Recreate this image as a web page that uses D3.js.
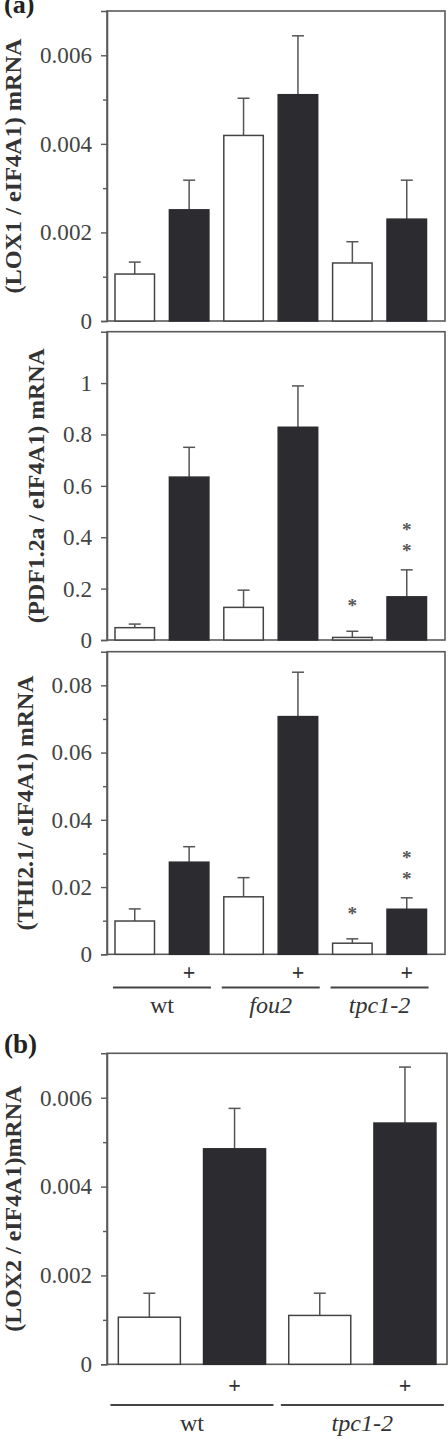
<!DOCTYPE html>
<html><head><meta charset="utf-8">
<script src="https://cdn.jsdelivr.net/npm/d3@7"></script>
<style>body{margin:0;background:#fff}svg{display:block}</style>
</head><body>
<svg id="chart" width="448" height="1439"></svg>
<script>
// ---------- data ----------
const barsA = ["wt-", "wt+", "fou2-", "fou2+", "tpc1-2-", "tpc1-2+"];
const treatedA = [false, true, false, true, false, true];
const groupsA = ["wt", "fou2", "tpc1-2"];
const groupItalicA = [false, true, true];

const lox1Mean = [0.00106, 0.00251, 0.00419, 0.00511, 0.00131, 0.00230];
const lox1Err  = [0.00027, 0.00067, 0.00084, 0.00133, 0.00048, 0.00088];
const lox1Stars = [0, 0, 0, 0, 0, 0];
const lox1Ticks = [0, 0.002, 0.004, 0.006];
const lox1Minor = [0.001, 0.003, 0.005];

const pdfMean = [0.048, 0.634, 0.127, 0.828, 0.010, 0.168];
const pdfErr  = [0.014, 0.116, 0.067, 0.161, 0.024, 0.105];
const pdfStars = [0, 0, 0, 0, 1, 2];
const pdfTicks = [0, 0.2, 0.4, 0.6, 0.8, 1];
const pdfMinor = [];

const thiMean = [0.0099, 0.0274, 0.0171, 0.0707, 0.0033, 0.0134];
const thiErr  = [0.0036, 0.0046, 0.0057, 0.0132, 0.0013, 0.0034];
const thiStars = [0, 0, 0, 0, 1, 2];
const thiTicks = [0, 0.02, 0.04, 0.06, 0.08];
const thiMinor = [0.01, 0.03, 0.05, 0.07];

const barsB = ["wt-", "wt+", "tpc1-2-", "tpc1-2+"];
const treatedB = [false, true, false, true];
const groupsB = ["wt", "tpc1-2"];
const groupItalicB = [false, true];
const lox2Mean = [0.00106, 0.00485, 0.00110, 0.00543];
const lox2Err  = [0.00054, 0.00091, 0.00050, 0.00126];
const lox2Stars = [0, 0, 0, 0];
const lox2Ticks = [0, 0.002, 0.004, 0.006];
const lox2Minor = [0.001, 0.003, 0.005];

// ---------- drawing ----------
const svg = d3.select("#chart");
const SERIF = "'Liberation Serif','Times New Roman',Times,serif";
const FRAME = "#5a5a5a";
const DARK = "#2b2b30";
const fmt = d => d === 0 ? "0" : d3.format("~g")(d);

// font calibration: "0.006" should be ~52px wide at the tick size
const probe = svg.append("text").attr("font-family", SERIF).attr("font-size", 23).text("0.006");
const plen = probe.node().getComputedTextLength();
probe.remove();
const K = (plen > 10) ? Math.max(0.8, Math.min(1.35, 52 / plen)) : 1;
const fs = v => v * K;

const xA = d3.scaleBand().domain(barsA).range([107, 434.5]).paddingInner(0.274).paddingOuter(0.147);
const xB = d3.scaleBand().domain(barsB).range([107, 447.3]).paddingInner(0.272).paddingOuter(0.133);

function panel(cfg) {
  const {x, bars, treated, mean, err, stars, ticks, minor, max, top, bottom, right, title, titleX, titleLen} = cfg;
  const y = d3.scaleLinear().domain([0, max]).range([bottom, top]);
  const g = svg.append("g");

  // frame
  g.append("rect").attr("x", 107).attr("y", top).attr("width", right - 107).attr("height", bottom - top)
    .attr("fill", "none").attr("stroke", FRAME).attr("stroke-width", 1.6);

  // axis
  const ax = g.append("g").attr("transform", "translate(107,0)")
    .call(d3.axisLeft(y).tickValues(ticks).tickSize(6).tickPadding(9).tickFormat(fmt));
  ax.attr("font-family", SERIF).attr("font-size", fs(23));
  ax.select(".domain").attr("stroke", FRAME).attr("stroke-width", 1.6);
  ax.selectAll(".tick line").attr("stroke", FRAME).attr("stroke-width", 1.4);
  ax.selectAll(".tick text").attr("font-family", SERIF).attr("font-size", fs(23)).attr("fill", "#444");
  if (minor.length) {
    const mx = g.append("g").attr("transform", "translate(107,0)")
      .call(d3.axisLeft(y).tickValues(minor).tickSize(4).tickFormat(""));
    mx.select(".domain").remove();
    mx.selectAll(".tick line").attr("stroke", FRAME).attr("stroke-width", 1.4);
  }

  // error bars
  const cap = 6;
  bars.forEach((b, i) => {
    const cx = x(b) + x.bandwidth() / 2;
    const yt = y(mean[i] + err[i]);
    g.append("line").attr("x1", cx).attr("x2", cx).attr("y1", y(mean[i])).attr("y2", yt)
      .attr("stroke", "#555").attr("stroke-width", 1.5);
    g.append("line").attr("x1", cx - cap).attr("x2", cx + cap).attr("y1", yt).attr("y2", yt)
      .attr("stroke", "#555").attr("stroke-width", 1.5);
  });

  // bars
  g.selectAll("rect.bar").data(bars).join("rect").attr("class", "bar")
    .attr("x", d => x(d)).attr("width", x.bandwidth())
    .attr("y", (d, i) => y(mean[i])).attr("height", (d, i) => bottom - y(mean[i]))
    .attr("fill", (d, i) => treated[i] ? DARK : "#fff")
    .attr("stroke", (d, i) => treated[i] ? DARK : "#444").attr("stroke-width", 1.5);

  // asterisks
  bars.forEach((b, i) => {
    if (!stars[i]) return;
    const cx = x(b) + x.bandwidth() / 2;
    const yt = y(mean[i] + err[i]);
    const lowest = yt - (stars[i] === 1 ? 29 : 23);
    for (let k = 0; k < stars[i]; k++) {
      g.append("text").attr("x", cx).attr("y", lowest - k * 21 + 10).attr("text-anchor", "middle")
        .attr("font-family", SERIF).attr("font-size", fs(19)).attr("font-weight", "bold")
        .attr("fill", "#555").text("*");
    }
  });

  // y title
  g.append("text")
    .attr("transform", `translate(${titleX},${(top + bottom) / 2}) rotate(-90)`)
    .attr("text-anchor", "middle").attr("dominant-baseline", "central")
    .attr("font-family", SERIF).attr("font-weight", "bold").attr("font-size", fs(22))
    .attr("fill", "#333")
    .attr("textLength", titleLen).attr("lengthAdjust", "spacingAndGlyphs")
    .text(title);
  return y;
}

panel({x: xA, bars: barsA, treated: treatedA, mean: lox1Mean, err: lox1Err, stars: lox1Stars,
  ticks: lox1Ticks, minor: lox1Minor, max: 0.007, top: 11, bottom: 321, right: 445,
  title: "(LOX1 / eIF4A1) mRNA", titleX: 13, titleLen: 255});
panel({x: xA, bars: barsA, treated: treatedA, mean: pdfMean, err: pdfErr, stars: pdfStars,
  ticks: pdfTicks, minor: pdfMinor, max: 1.2, top: 331.7, bottom: 640, right: 445,
  title: "(PDF1.2a / eIF4A1) mRNA", titleX: 36, titleLen: 275});
panel({x: xA, bars: barsA, treated: treatedA, mean: thiMean, err: thiErr, stars: thiStars,
  ticks: thiTicks, minor: thiMinor, max: 0.09, top: 651.7, bottom: 954.3, right: 445,
  title: "(THI2.1/ eIF4A1) mRNA", titleX: 25, titleLen: 255});
panel({x: xB, bars: barsB, treated: treatedB, mean: lox2Mean, err: lox2Err, stars: lox2Stars,
  ticks: lox2Ticks, minor: lox2Minor, max: 0.007, top: 1053.3, bottom: 1364.3, right: 447,
  title: "(LOX2 / eIF4A1)mRNA", titleX: 13, titleLen: 246});

// treatment marks and group labels
function groupAxis(x, bars, treated, groups, italic, plusY, lineY, labelY, lineLen) {
  bars.forEach((b, i) => {
    if (!treated[i]) return;
    svg.append("text").attr("x", x(b) + x.bandwidth() / 2).attr("y", plusY)
      .attr("text-anchor", "middle").attr("font-family", SERIF).attr("font-weight", "bold")
      .attr("font-size", fs(22)).attr("fill", "#333").text("+");
  });
  groups.forEach((gname, j) => {
    const b0 = bars[j * 2], b1 = bars[j * 2 + 1];
    const c = (x(b0) + x(b1) + x.bandwidth()) / 2;
    svg.append("line").attr("x1", c - lineLen / 2).attr("x2", c + lineLen / 2)
      .attr("y1", lineY).attr("y2", lineY).attr("stroke", "#444").attr("stroke-width", 2);
    svg.append("text").attr("x", c).attr("y", labelY).attr("text-anchor", "middle")
      .attr("font-family", SERIF).attr("font-size", fs(24)).attr("fill", "#333")
      .attr("font-style", italic[j] ? "italic" : "normal").text(gname);
  });
}
groupAxis(xA, barsA, treatedA, groupsA, groupItalicA, 980, 987.5, 1013, 98);
groupAxis(xB, barsB, treatedB, groupsB, groupItalicB, 1393, 1405, 1431, 163);

// panel letters
svg.append("text").attr("x", 4).attr("y", 13).attr("font-family", SERIF).attr("font-weight", "bold")
  .attr("font-size", fs(26)).attr("fill", "#222").text("(a)");
svg.append("text").attr("x", 4).attr("y", 1053).attr("font-family", SERIF).attr("font-weight", "bold")
  .attr("font-size", fs(27)).attr("fill", "#222").text("(b)");
</script>
</body></html>
